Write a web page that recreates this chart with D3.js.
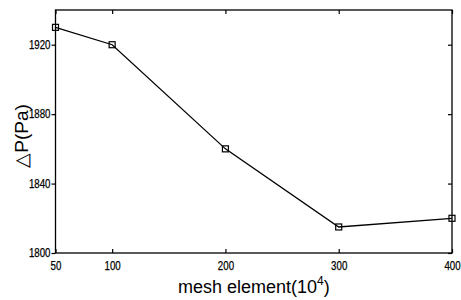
<!DOCTYPE html>
<html>
<head>
<meta charset="utf-8">
<script src="https://cdn.jsdelivr.net/npm/d3@7"></script>
<style>
body { margin: 0; background: #fff; }
text { font-family: "Liberation Sans", Arial, sans-serif; }
</style>
</head>
<body>
<div id="chart"></div>
<script>
// data
var meshElements = [50, 100, 200, 300, 400];
var pressureDrop = [1930, 1920, 1860, 1815, 1820];
var xTicks = [50, 100, 200, 300, 400];
var yTicks = [1800, 1840, 1880, 1920];

var svgWidth = 461;
var svgHeight = 300;
var margin = { top: 10, right: 9, bottom: 47, left: 55.5 };
var chartWidth = svgWidth - margin.left - margin.right;
var chartHeight = svgHeight - margin.top - margin.bottom;

var svg = d3.select("#chart")
    .append("svg")
    .attr("width", svgWidth)
    .attr("height", svgHeight);

var chartGroup = svg.append("g")
    .attr("transform", `translate(${margin.left}, ${margin.top})`);

var xScale = d3.scaleLinear().domain([50, 400]).range([0, chartWidth]);
var yScale = d3.scaleLinear().domain([1800, 1940]).range([chartHeight, 0]);

// frame
chartGroup.append("rect")
    .attr("width", chartWidth)
    .attr("height", chartHeight)
    .attr("fill", "none")
    .attr("stroke", "#000")
    .attr("stroke-width", 1.3);

// bottom axis, ticks point inward
var xAxis = chartGroup.append("g")
    .attr("transform", `translate(0, ${chartHeight})`)
    .call(d3.axisBottom(xScale).tickValues(xTicks).tickSize(-4).tickPadding(8).tickFormat(d3.format("d")));
// top ticks
var xTop = chartGroup.append("g")
    .call(d3.axisTop(xScale).tickValues(xTicks).tickSize(-4).tickFormat(""));
// left axis, ticks point outward
var yAxis = chartGroup.append("g")
    .call(d3.axisLeft(yScale).tickValues(yTicks).tickSize(4).tickPadding(1).tickFormat(d3.format("d")));
// right ticks
var yRight = chartGroup.append("g")
    .attr("transform", `translate(${chartWidth}, 0)`)
    .call(d3.axisRight(yScale).tickValues(yTicks).tickSize(-4).tickFormat(""));

[xAxis, xTop, yAxis, yRight].forEach(function(ax) {
    ax.select(".domain").remove();
    ax.selectAll("line").attr("stroke", "#000").attr("stroke-width", 1.2);
    ax.selectAll("text")
        .attr("fill", "#000")
        .attr("stroke", "#000")
        .attr("stroke-width", 0.25)
        .style("font-size", "12px");
});
[xAxis, yAxis].forEach(function(ax) {
    ax.selectAll("text")
        .attr("textLength", d => String(d).length * 5.4)
        .attr("lengthAdjust", "spacingAndGlyphs");
});

// line + square markers
var points = meshElements.map(function(m, i) { return [m, pressureDrop[i]]; });

var line = d3.line()
    .x(d => xScale(d[0]))
    .y(d => yScale(d[1]));

chartGroup.append("path")
    .datum(points)
    .attr("d", line)
    .attr("fill", "none")
    .attr("stroke", "#000")
    .attr("stroke-width", 1.3);

chartGroup.selectAll(".marker")
    .data(points)
    .enter()
    .append("rect")
    .attr("class", "marker")
    .attr("x", d => xScale(d[0]) - 3)
    .attr("y", d => yScale(d[1]) - 3)
    .attr("width", 6)
    .attr("height", 6)
    .attr("fill", "none")
    .attr("stroke", "#000")
    .attr("stroke-width", 1.2);

// axis labels
var xLabel = svg.append("text")
    .attr("x", 178)
    .attr("y", 293)
    .style("font-size", "18px")
    .attr("fill", "#000");
xLabel.append("tspan").text("mesh element(10");
xLabel.append("tspan").attr("dy", -8).style("font-size", "12px").text("4");
xLabel.append("tspan").attr("dy", 8).text(")");

svg.append("text")
    .attr("transform", "translate(28, 136) rotate(-90)")
    .attr("text-anchor", "middle")
    .style("font-size", "19px")
    .attr("fill", "#000")
    .text("\u25B3P(Pa)");
</script>
</body>
</html>
